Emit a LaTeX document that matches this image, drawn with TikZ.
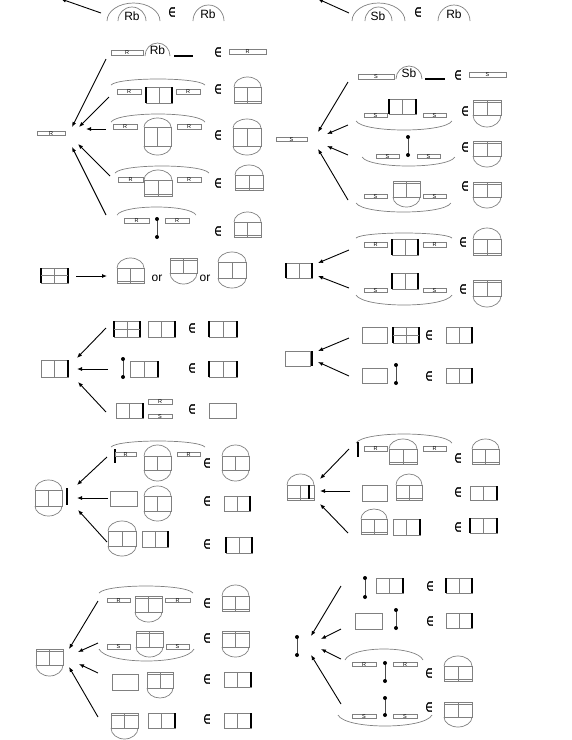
\documentclass[tikz,border=0pt]{standalone}
\usepackage{fontspec}
\setmainfont{Liberation Sans}
\newfontfamily\elemfont{DejaVu Sans}[FakeBold=2.5]
\usetikzlibrary{arrows.meta}

\tikzset{
  pane/.style={draw=black!50, line width=0.7pt},
  heavy/.style={line width=1.7pt, black},
  grp/.style={draw=black!50, line width=0.7pt},
  ledge/.style={line width=2.2pt, black},
  arr/.style={-{Latex[length=5pt,width=4pt]}, line width=0.9pt},
  lbl/.style={font=\fontsize{12}{12}\selectfont, inner sep=0pt},
  tag/.style={font=\fontsize{5.5}{5.5}\selectfont, inner sep=0pt},
  elem/.style={font=\elemfont\fontsize{13}{13}\selectfont, inner sep=0pt},
}
\newcounter{tagno}
\newcommand{\pane}[4]{\draw[pane] (#1,#2) rectangle (#3,#4) ({(#1+#3)/2},#2) -- ({(#1+#3)/2},#4);}
\newcommand{\blank}[4]{\draw[pane] (#1,#2) rectangle (#3,#4);}
\newcommand{\wall}[3]{\draw[heavy] (#1,#2) -- (#1,#3);}
\newcommand{\dup}[4]{\draw[pane] (#1,#3) arc[start angle=180,end angle=360,x radius={(#2-#1)/2},y radius=#4];}
\newcommand{\ddown}[4]{\draw[pane] (#1,#3) arc[start angle=180,end angle=0,x radius={(#2-#1)/2},y radius=#4];}
\newcommand{\sill}[3]{\draw[pane] (#1,#3) -- (#2,#3);}
\newcommand{\domewin}[5]{\pane{#1}{#2}{#3}{#4}\dup{#1}{#3}{#2}{#5}\sill{#1}{#3}{#4-2}}
\newcommand{\bowlwin}[5]{\pane{#1}{#2}{#3}{#4}\ddown{#1}{#3}{#4}{#5}\sill{#1}{#3}{#2+2.5}}
\newcommand{\capwin}[5]{\pane{#1}{#2}{#3}{#4}\dup{#1}{#3}{#2}{#5}\ddown{#1}{#3}{#4}{#5}}
\newcommand{\wallwin}[4]{\pane{#1}{#2}{#3}{#4}\wall{#1}{#2}{#4}\wall{#3}{#2}{#4}}
\newcommand{\rwallwin}[4]{\pane{#1}{#2}{#3}{#4}\wall{#3}{#2}{#4}}
\newcommand{\tagbar}[4]{\stepcounter{tagno}\draw[pane] (#1,{#3-2.3}) rectangle (#2,{#3+2.3});
  \node[tag] (tag-\arabic{tagno}) at ({(#1+#2)/2},#3) {#4};}
\newcommand{\post}[3]{\draw[black!70, line width=0.8pt] (#1,#2) -- (#1,#3);
  \fill (#1,#2) circle[radius=2]; \fill (#1,#3) circle[radius=2];}
\newcommand{\grparc}[4]{\draw[grp] (#1,#3) .. controls ({#1+0.08*(#2-#1)},{#3+(#4-#3)/0.75}) and ({#2-0.08*(#2-#1)},{#3+(#4-#3)/0.75}) .. (#2,#3);}
\newcommand{\member}[3]{\node[elem] (#1) at (#2,#3) {\scalebox{0.62}[1]{∈}};}

\begin{document}
\begin{tikzpicture}[x=1pt,y=-1pt]
  \useasboundingbox (0,0) rectangle (572,740);

  % top row
  \coordinate (t1) at (101,13); \coordinate (t1t) at (61,-1);
  \draw[arr] (t1) -- (t1t);
  \dup{107}{160}{21}{18} \dup{118}{146}{21}{14}
  \node[lbl] (rbT1) at (132,16) {Rb};
  \member{inT1}{172}{12}
  \dup{193}{224}{21}{16}
  \node[lbl] (rbT2) at (208,14) {Rb};

  \coordinate (t2) at (349,13); \coordinate (t2t) at (318,-1);
  \draw[arr] (t2) -- (t2t);
  \dup{352}{405}{21}{18} \dup{365}{392}{21}{14}
  \node[lbl] (sbT1) at (378,16) {Sb};
  \member{inT2}{418}{12}
  \dup{438}{470}{21}{16}
  \node[lbl] (rbT3) at (454,14) {Rb};

  % R bar
  \tagbar{37}{65}{133.5}{R}
  \tagbar{111}{143}{53}{R} \dup{145}{170}{56}{13}
  \node[lbl] (rbA) at (157.5,50.5) {Rb};
  \draw[ledge] (174,56) -- (193,56);
  \member{inA1}{218}{52} \tagbar{229}{266}{52}{R}
  \grparc{111}{205}{85}{79} \tagbar{117}{141}{92}{R} \wallwin{146}{87}{172}{103} \tagbar{176}{200}{92}{R}
  \member{inA2}{218}{89} \domewin{234}{87}{261}{103}{10}
  \grparc{111}{205}{122}{114} \tagbar{113}{137}{127}{R} \capwin{144}{127}{171}{146}{9} \tagbar{177}{201}{127}{R}
  \member{inA3}{218}{135} \capwin{233}{128}{261}{146}{9}
  \grparc{115}{209}{173}{166} \tagbar{118}{143}{180}{R} \domewin{144}{180}{172}{196}{10} \tagbar{177}{201}{180}{R}
  \member{inA4}{218}{183} \domewin{235}{175}{263}{190}{10}
  \grparc{117}{196}{215}{207} \tagbar{124}{149}{221}{R} \post{157}{219}{237} \tagbar{165}{189}{221}{R}
  \member{inA5}{218}{231} \domewin{234}{222}{261}{237}{10}
  \coordinate (a1) at (106,59);  \coordinate (a1t) at (72,127);
  \coordinate (a2) at (109,97);  \coordinate (a2t) at (79,127);
  \coordinate (a3) at (106,129); \coordinate (a3t) at (86,129);
  \coordinate (a4) at (110,176); \coordinate (a4t) at (78,144);
  \coordinate (a5) at (106,215); \coordinate (a5t) at (72,147);
  \draw[arr] (a1) -- (a1t); \draw[arr] (a2) -- (a2t); \draw[arr] (a3) -- (a3t);
  \draw[arr] (a4) -- (a4t); \draw[arr] (a5) -- (a5t);

  % S bar
  \tagbar{276}{307}{139.5}{S}
  \tagbar{358}{394}{77}{S} \dup{396}{422}{79}{13}
  \node[lbl] (sbB) at (409,73.5) {Sb};
  \draw[ledge] (425,79) -- (445,79);
  \member{inB1}{458}{75} \tagbar{469}{506}{75}{S}
  \wallwin{389}{99}{416}{114} \tagbar{364}{387}{115.5}{S} \tagbar{423}{446}{115.5}{S} \grparc{356}{452}{121}{130}
  \member{inB2}{465}{111} \bowlwin{473}{100}{501}{115}{12}
  \post{408}{137}{155} \tagbar{376}{399}{156.5}{S} \tagbar{417}{440}{156.5}{S} \grparc{362}{455}{157}{166}
  \member{inB3}{465}{147} \bowlwin{473}{141}{501}{156}{11}
  \bowlwin{393}{181}{420}{197}{10} \tagbar{364}{387}{196.5}{S} \tagbar{423}{446}{196.5}{S} \grparc{356}{451}{203}{212}
  \member{inB4}{465}{186} \bowlwin{473}{182}{501}{197}{11}
  \coordinate (b1) at (348,82);  \coordinate (b1t) at (318,132);
  \coordinate (b2) at (348,125); \coordinate (b2t) at (327,134);
  \coordinate (b3) at (348,155); \coordinate (b3t) at (327,146);
  \coordinate (b4) at (348,200); \coordinate (b4t) at (318,149);
  \draw[arr] (b1) -- (b1t); \draw[arr] (b2) -- (b2t);
  \draw[arr] (b3) -- (b3t); \draw[arr] (b4) -- (b4t);

  % walled window turns into
  \wallwin{41}{268}{68}{283} \sill{41}{68}{275.5}
  \coordinate (c1) at (76,276); \coordinate (c1t) at (107,276);
  \draw[arr] (c1) -- (c1t);
  \domewin{117}{268}{144}{283}{10}
  \node[lbl] (or1) at (157,278) {or};
  \bowlwin{170}{258}{197}{273}{11}
  \node[lbl] (or2) at (205,278) {or};
  \capwin{218}{262}{246}{278}{10}

  % walled window
  \wallwin{286}{263}{312}{278}
  \grparc{356}{452}{238}{233} \tagbar{364}{387}{245}{R} \wallwin{392}{239}{418}{255} \tagbar{423}{446}{245}{R}
  \member{inD1}{463}{242} \domewin{473}{239}{501}{255}{11}
  \wallwin{392}{273}{418}{289} \tagbar{364}{387}{290.5}{S} \tagbar{423}{446}{290.5}{S} \grparc{356}{452}{295}{305}
  \member{inD2}{463}{289} \bowlwin{473}{280}{501}{296}{11}
  \coordinate (d1) at (349,250); \coordinate (d1t) at (318,263);
  \coordinate (d2) at (349,288); \coordinate (d2t) at (318,276);
  \draw[arr] (d1) -- (d1t); \draw[arr] (d2) -- (d2t);

  % window, right wall
  \rwallwin{41}{360}{68}{377}
  \wallwin{114}{321}{140}{337} \sill{114}{140}{329} \rwallwin{148}{321}{175}{337}
  \member{inE1}{192}{328} \wallwin{209}{321}{237}{337}
  \post{123}{359}{377} \rwallwin{130}{361}{158}{377}
  \member{inE2}{192}{368} \wallwin{209}{361}{237}{377}
  \rwallwin{116}{403}{143}{418} \tagbar{148}{172}{402}{R} \tagbar{148}{172}{416.5}{S}
  \member{inE3}{192}{409} \blank{209}{403}{236}{418}
  \coordinate (e1) at (106,328); \coordinate (e1t) at (77,358);
  \coordinate (e2) at (108,369); \coordinate (e2t) at (77,369);
  \coordinate (e3) at (106,412); \coordinate (e3t) at (78,382);
  \draw[arr] (e1) -- (e1t); \draw[arr] (e2) -- (e2t); \draw[arr] (e3) -- (e3t);

  % blank, right wall
  \blank{285}{351}{310}{366} \wall{312}{351}{366}
  \blank{362}{327}{387}{343} \wallwin{393}{327}{419}{343} \sill{393}{419}{335}
  \member{inF1}{429}{335} \rwallwin{446}{327}{472}{343}
  \blank{362}{368}{387}{383} \post{396}{365}{383}
  \member{inF2}{429}{376} \rwallwin{446}{368}{472}{383}
  \coordinate (f1) at (349,338); \coordinate (f1t) at (318,351);
  \coordinate (f2) at (349,376); \coordinate (f2t) at (318,362);
  \draw[arr] (f1) -- (f1t); \draw[arr] (f2) -- (f2t);

  % capsule, wall
  \capwin{35}{490}{62}{506}{10} \wall{67}{488}{505}
  \grparc{111}{205}{447}{441} \wall{115}{449}{463} \tagbar{115}{136}{454.5}{R} \capwin{144}{456}{171}{470}{11} \tagbar{177}{200}{454.5}{R}
  \member{inG1}{207}{463} \capwin{222}{456}{249}{470}{11}
  \blank{110}{491}{137}{506} \capwin{144}{496}{171}{511}{10}
  \member{inG2}{207}{501} \rwallwin{224}{496}{250}{511}
  \capwin{108}{531}{136}{546}{10} \rwallwin{142}{531}{168}{547}
  \member{inG3}{207}{544} \wallwin{226}{537}{252}{553}
  \coordinate (g1) at (107,457); \coordinate (g1t) at (77,485);
  \coordinate (g2) at (108,498); \coordinate (g2t) at (77,498);
  \coordinate (g3) at (107,542); \coordinate (g3t) at (78,510);
  \draw[arr] (g1) -- (g1t); \draw[arr] (g2) -- (g2t); \draw[arr] (g3) -- (g3t);

  % dome window, wall
  \domewin{287}{485}{314}{500}{11} \wall{309}{485}{499}
  \grparc{356}{452}{443}{434} \wall{358}{442}{457} \tagbar{364}{387}{449}{R} \domewin{389}{449}{417}{464}{10} \tagbar{423}{446}{449}{R}
  \member{inH1}{458}{458} \domewin{472}{449}{499}{464}{10}
  \blank{362}{485}{387}{501} \domewin{396}{485}{422}{500}{11}
  \member{inH2}{458}{492} \rwallwin{470}{486}{497}{500}
  \domewin{361}{519}{387}{534}{10} \rwallwin{393}{519}{420}{535}
  \member{inH3}{458}{527} \wallwin{470}{518}{497}{533}
  \coordinate (h1) at (349,449); \coordinate (h1t) at (320,479);
  \coordinate (h2) at (350,491); \coordinate (h2t) at (320,491);
  \coordinate (h3) at (348,533); \coordinate (h3t) at (320,504);
  \draw[arr] (h1) -- (h1t); \draw[arr] (h2) -- (h2t); \draw[arr] (h3) -- (h3t);

  % bowl window
  \bowlwin{36}{649}{63}{665}{11}
  \grparc{99}{193}{593}{586} \tagbar{107}{130}{600.5}{R} \bowlwin{135}{596}{162}{612}{10} \tagbar{165}{190}{600.5}{R}
  \member{inI1}{207}{603} \domewin{222}{596}{249}{611}{11}
  \bowlwin{136}{631}{163}{647}{10} \tagbar{107}{130}{647}{S} \tagbar{166}{189}{647}{S} \grparc{99}{194}{649}{661}
  \member{inI2}{207}{638} \bowlwin{222}{631}{249}{647}{10}
  \blank{112}{674}{138}{690} \bowlwin{147}{672}{173}{688}{10}
  \member{inI3}{207}{679} \rwallwin{224}{672}{251}{687}
  \bowlwin{111}{713}{138}{728}{11} \rwallwin{148}{713}{175}{728}
  \member{inI4}{207}{719} \rwallwin{224}{713}{251}{728}
  \coordinate (i1) at (98,601); \coordinate (i1t) at (69,649);
  \coordinate (i2) at (98,643); \coordinate (i2t) at (78,652);
  \coordinate (i3) at (98,673); \coordinate (i3t) at (79,664);
  \coordinate (i4) at (98,717); \coordinate (i4t) at (69,667);
  \draw[arr] (i1) -- (i1t); \draw[arr] (i2) -- (i2t);
  \draw[arr] (i3) -- (i3t); \draw[arr] (i4) -- (i4t);

  % post
  \post{297}{637}{655}
  \post{365}{578}{597} \rwallwin{376}{578}{403}{593}
  \member{inJ1}{430}{586} \wallwin{446}{578}{472}{593}
  \blank{355}{613}{382}{629} \post{396}{610}{628}
  \member{inJ2}{430}{621} \rwallwin{446}{613}{472}{628}
  \grparc{345}{423}{660}{649} \tagbar{352}{376}{664.5}{R} \tagbar{393}{417}{664.5}{R} \post{385}{663}{681}
  \member{inJ3}{429}{673} \domewin{444}{666}{472}{681}{10}
  \post{385}{698}{715} \tagbar{352}{376}{716.5}{S} \tagbar{393}{417}{716.5}{S} \grparc{338}{432}{715}{726}
  \member{inJ4}{429}{707} \bowlwin{444}{702}{472}{717}{10}
  \coordinate (j1) at (341,586); \coordinate (j1t) at (311,636);
  \coordinate (j2) at (341,629); \coordinate (j2t) at (321,639);
  \coordinate (j3) at (341,659); \coordinate (j3t) at (321,649);
  \coordinate (j4) at (341,704); \coordinate (j4t) at (311,655);
  \draw[arr] (j1) -- (j1t); \draw[arr] (j2) -- (j2t);
  \draw[arr] (j3) -- (j3t); \draw[arr] (j4) -- (j4t);
\end{tikzpicture}
\end{document}
